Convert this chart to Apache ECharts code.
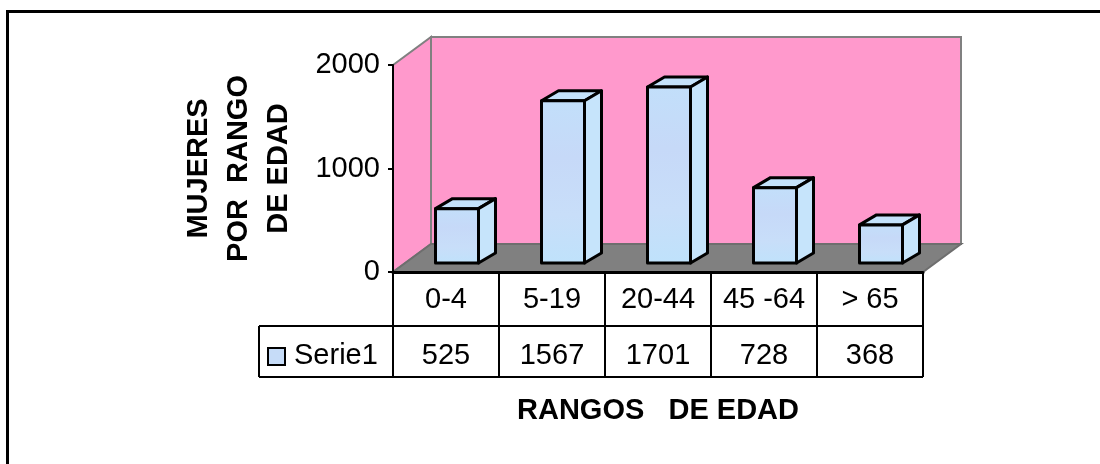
<!DOCTYPE html>
<html>
<head>
<meta charset="utf-8">
<style>
  html, body { margin: 0; padding: 0; background: #fff; }
  #chart { width: 1100px; height: 464px; }
</style>
<script src="https://cdn.jsdelivr.net/npm/echarts@6/dist/echarts.min.js"></script>
</head>
<body>
<div id="chart"></div>
<script>
var categories = ['0-4', '5-19', '20-44', '45 -64', '> 65'];
var serie1 = [525, 1567, 1701, 728, 368];
var seriesName = 'Serie1';
var yTicks = [0, 1000, 2000];

var font = '"Liberation Sans", Arial, sans-serif';
var depthX = 38, depthY = 28;   // 3d box of the plot
var barW = 43, barDX = 17, barDY = 10;
var row1 = 54, row2 = 51, tableLeft = 259;

var chartDom = document.getElementById('chart');
var myChart = echarts.init(chartDom);

function renderWalls(params, api) {
  var c = params.coordSys;
  var l = c.x, r = c.x + c.width, t = c.y, b = c.y + c.height;
  var edge = { stroke: '#808080', lineWidth: 2 };
  return {
    type: 'group',
    children: [
      { type: 'polygon', shape: { points: [[l + depthX, t - depthY], [r + depthX, t - depthY], [r + depthX, b - depthY], [l + depthX, b - depthY]] },
        style: Object.assign({ fill: '#ff99cc' }, edge) },
      { type: 'polygon', shape: { points: [[l, t], [l + depthX, t - depthY], [l + depthX, b - depthY], [l, b]] },
        style: Object.assign({ fill: '#ff99cc' }, edge) },
      { type: 'polygon', shape: { points: [[l, b], [l + depthX, b - depthY], [r + depthX, b - depthY], [r, b]] },
        style: { fill: '#808080', stroke: '#6e6e6e', lineWidth: 2 } }
    ]
  };
}

function renderBar(params, api) {
  var p = api.coord([api.value(0), api.value(1)]);
  var p0 = api.coord([api.value(0), 0]);
  var x0 = p[0] + 11 - barW / 2, x1 = x0 + barW;
  var yt = p[1] - 9, yb = p0[1] - 9;
  var ink = { stroke: '#000', lineWidth: 3, lineJoin: 'round' };
  return {
    type: 'group',
    children: [
      { type: 'polygon', shape: { points: [[x0, yt], [x0 + barDX, yt - barDY], [x1 + barDX, yt - barDY], [x1, yt]] },
        style: Object.assign({ fill: '#c4e2fb' }, ink) },
      { type: 'polygon', shape: { points: [[x1, yt], [x1 + barDX, yt - barDY], [x1 + barDX, yb - barDY], [x1, yb]] },
        style: Object.assign({ fill: '#c6e4fb' }, ink) },
      { type: 'rect', shape: { x: x0, y: yt, width: barW, height: yb - yt },
        style: Object.assign({
          fill: new echarts.graphic.LinearGradient(0, 0, 0, 1, [
            { offset: 0, color: '#c2dffa' },
            { offset: 0.35, color: '#c6d9f8' },
            { offset: 0.7, color: '#c8def9' },
            { offset: 1, color: '#bfe2fb' }
          ])
        }, ink) }
    ]
  };
}

// second table row, the values of the series
function renderCell(params, api) {
  var c = params.coordSys;
  var cx = api.coord([api.value(0), 0])[0];
  var w = api.size([1, 0])[0];
  var b = c.y + c.height;
  var line = { stroke: '#000', lineWidth: 2 };
  return {
    type: 'group',
    children: [
      { type: 'line', shape: { x1: cx + w / 2, y1: b + row1, x2: cx + w / 2, y2: b + row1 + row2 }, style: line },
      { type: 'text', x: cx, y: b + row1 + row2 / 2 + 4,
        style: { text: String(api.value(1)), font: '29px ' + font, fill: '#000', align: 'center', verticalAlign: 'middle' } }
    ]
  };
}

// left header of the table with the legend key
function renderHeader(params, api) {
  var c = params.coordSys;
  var l = c.x, r = c.x + c.width, b = c.y + c.height;
  var line = { stroke: '#000', lineWidth: 2 };
  return {
    type: 'group',
    children: [
      { type: 'line', shape: { x1: tableLeft, y1: b + row1, x2: r, y2: b + row1 }, style: line },
      { type: 'line', shape: { x1: tableLeft, y1: b + row1 + row2, x2: r, y2: b + row1 + row2 }, style: line },
      { type: 'line', shape: { x1: tableLeft, y1: b + row1, x2: tableLeft, y2: b + row1 + row2 }, style: line },
      { type: 'line', shape: { x1: l, y1: b + row1, x2: l, y2: b + row1 + row2 }, style: line },
      { type: 'rect', shape: { x: tableLeft + 9, y: b + 76, width: 17, height: 17 },
        style: { fill: '#c6dcf8', stroke: '#000', lineWidth: 2 } },
      { type: 'text', x: tableLeft + 35, y: b + row1 + row2 / 2 + 4,
        style: { text: seriesName, font: '29px ' + font, fill: '#000', align: 'left', verticalAlign: 'middle' } }
    ]
  };
}

var option = {
  animation: false,
  backgroundColor: '#fff',
  textStyle: { fontFamily: font },
  graphic: [
    // only the top and left of the frame are inside the picture
    { type: 'polyline', silent: true, shape: { points: [[7.5, 464], [7.5, 11.5], [1100, 11.5]] },
      style: { fill: 'none', stroke: '#000', lineWidth: 3 } }
  ],
  grid: { left: 393, top: 65, width: 530, height: 207 },
  xAxis: {
    type: 'category',
    data: categories,
    axisLine: { lineStyle: { color: '#000', width: 3 } },
    axisTick: { show: true, interval: 0, length: 54, lineStyle: { color: '#000', width: 2 } },
    axisLabel: { color: '#000', fontSize: 29, margin: 13, interval: 0, hideOverlap: false, fontFamily: font },
    name: 'RANGOS   DE EDAD',
    nameLocation: 'middle',
    nameGap: 124,
    nameTextStyle: { color: '#000', fontSize: 29, fontWeight: 'bold', fontFamily: font }
  },
  yAxis: {
    type: 'value',
    min: yTicks[0],
    max: yTicks[2],
    interval: yTicks[1],
    splitLine: { show: false },
    axisLine: { show: true, lineStyle: { color: '#000', width: 2 } },
    axisTick: { show: true, length: 5, lineStyle: { color: '#000', width: 2 } },
    axisLabel: { color: '#000', fontSize: 29, margin: 13, fontFamily: font, formatter: function (v) { return String(v); } },
    name: 'MUJERES\nPOR  RANGO\nDE EDAD',
    nameLocation: 'middle',
    nameRotate: 90,
    nameGap: 94,
    nameTextStyle: { color: '#000', fontSize: 29, fontWeight: 'bold', lineHeight: 40, fontFamily: font, align: 'center' }
  },
  series: [
    { type: 'custom', name: 'walls', z: -1, silent: true, renderItem: renderWalls, data: [0] },
    {
      type: 'custom',
      name: seriesName,
      silent: true,
      encode: { x: 0, y: 1 },
      renderItem: renderBar,
      data: categories.map(function (c, i) { return [i, serie1[i]]; })
    },
    {
      type: 'custom',
      name: 'table',
      silent: true,
      encode: { x: 0, y: 1 },
      clip: false,
      renderItem: renderCell,
      data: categories.map(function (c, i) { return [i, serie1[i]]; })
    },
    { type: 'custom', name: 'tableHead', silent: true, clip: false, renderItem: renderHeader, data: [0] }
  ]
};

option && myChart.setOption(option);
</script>
</body>
</html>
